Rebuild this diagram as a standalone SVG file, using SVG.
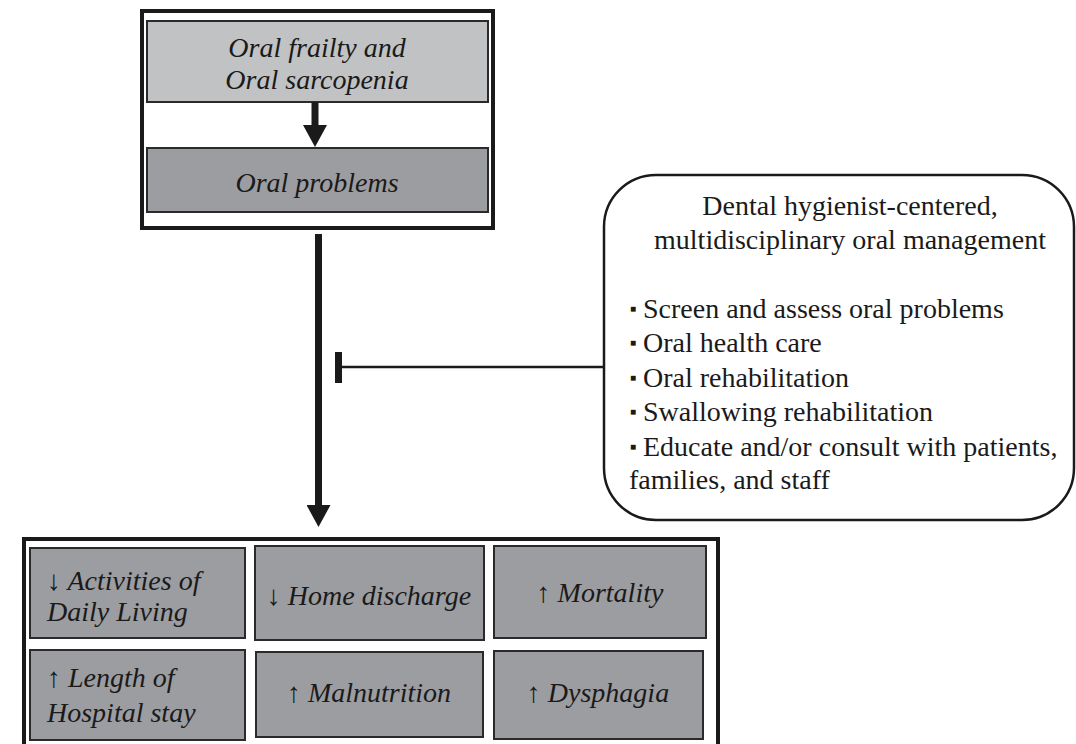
<svg xmlns="http://www.w3.org/2000/svg" width="1076" height="744" viewBox="0 0 1076 744">
<style>
.frame{fill:none;stroke:#1a1a1a;stroke-width:4}
.light{fill:#c1c2c4;stroke:#2a2a2a;stroke-width:2}
.dark{fill:#9c9da1;stroke:#2a2a2a;stroke-width:2}
.it{font-family:"Liberation Serif","Times New Roman",serif;font-style:italic;font-size:28px;fill:#1a1a1a}
.rm{font-family:"Liberation Serif","Times New Roman",serif;font-size:28px;fill:#1a1a1a}
.bul{font-size:10px}
.c{text-anchor:middle}
</style>
<defs>
<marker id="ah" viewBox="0 0 22 24" refX="0" refY="12" markerWidth="22" markerHeight="24" markerUnits="userSpaceOnUse" orient="auto">
<path d="M0,0 L22,12 L0,24 Z" fill="#1a1a1a"/>
</marker>
</defs>

<g id="top-group">
<rect class="frame" x="142" y="11" width="351" height="217"/>
</g>
<g id="oral-frailty">
<rect class="light" x="147" y="21" width="341" height="81"/>
<text class="it c" x="317" y="57">Oral frailty and</text>
<text class="it c" x="317" y="89">Oral sarcopenia</text>
</g>
<g id="oral-problems">
<rect class="dark" x="147" y="148" width="341" height="64"/>
<text class="it c" x="317" y="192">Oral problems</text>
</g>

<g id="management">
<rect x="604" y="175" width="470" height="345" rx="52" ry="52" fill="#fff" stroke="#1a1a1a" stroke-width="2.5"/>
<text class="rm c" x="850" y="215">Dental hygienist-centered,</text>
<text class="rm c" x="850" y="249">multidisciplinary oral management</text>
<text class="rm" x="630" y="318"><tspan class="bul" dy="-6">■</tspan><tspan x="643" dy="6">Screen and assess oral problems</tspan></text>
<text class="rm" x="630" y="352"><tspan class="bul" dy="-6">■</tspan><tspan x="643" dy="6">Oral health care</tspan></text>
<text class="rm" x="630" y="387"><tspan class="bul" dy="-6">■</tspan><tspan x="643" dy="6">Oral rehabilitation</tspan></text>
<text class="rm" x="630" y="421"><tspan class="bul" dy="-6">■</tspan><tspan x="643" dy="6">Swallowing rehabilitation</tspan></text>
<text class="rm" x="630" y="456"><tspan class="bul" dy="-6">■</tspan><tspan x="643" dy="6">Educate and/or consult with patients,</tspan></text>
<text class="rm" x="629" y="489">families, and staff</text>
</g>

<g id="outcomes-group">
<rect class="frame" x="24" y="539" width="694" height="220"/>
</g>
<g id="adl">
<rect class="dark" x="30" y="548" width="215" height="90"/>
<text class="it" x="47" y="590">↓ Activities of</text>
<text class="it" x="47" y="621">Daily Living</text>
</g>
<g id="home-discharge">
<rect class="dark" x="255" y="546" width="229" height="94"/>
<text class="it c" x="369" y="605">↓ Home discharge</text>
</g>
<g id="mortality">
<rect class="dark" x="494" y="546" width="212" height="92"/>
<text class="it c" x="600" y="602">↑ Mortality</text>
</g>
<g id="length-stay">
<rect class="dark" x="30" y="650" width="215" height="90"/>
<text class="it" x="47" y="687">↑ Length of</text>
<text class="it" x="47" y="722">Hospital stay</text>
</g>
<g id="malnutrition">
<rect class="dark" x="256" y="652" width="227" height="85"/>
<text class="it c" x="369" y="702">↑ Malnutrition</text>
</g>
<g id="dysphagia">
<rect class="dark" x="494" y="651" width="209" height="88"/>
<text class="it c" x="598" y="702">↑ Dysphagia</text>
</g>

<g id="connectors">
<line x1="315" y1="102" x2="315" y2="125" stroke="#1a1a1a" stroke-width="7" marker-end="url(#ah)"/>
<line x1="318.5" y1="234" x2="318.5" y2="505" stroke="#1a1a1a" stroke-width="7" marker-end="url(#ah)"/>
<line x1="342" y1="367" x2="604" y2="367" stroke="#1a1a1a" stroke-width="2.5"/>
<rect x="335" y="352" width="7" height="31" fill="#1a1a1a"/>
</g>
</svg>
